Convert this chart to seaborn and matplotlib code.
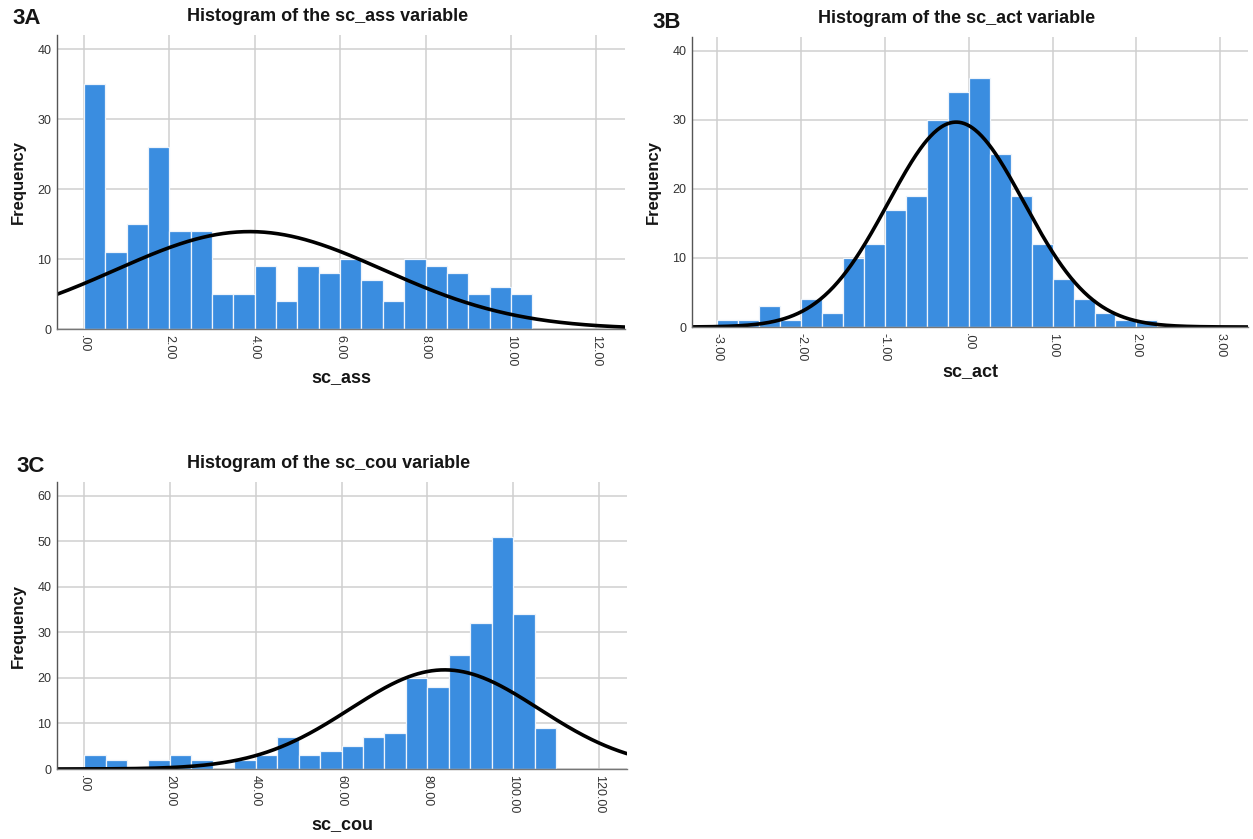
import numpy as np
import pandas as pd
import matplotlib
matplotlib.use("Agg")
import matplotlib.pyplot as plt
import seaborn as sns

# =====================================================
# DATA (bin counts)
# =====================================================

ass_start = 0.0
ass_width = 0.5
ass_counts = [35, 11, 15, 26, 14, 14, 5, 5, 9, 4, 9, 8, 10, 7, 4, 10, 9, 8, 5, 6, 5]
ass_mean = 3.88
ass_sd = 3.14

act_start = -3.0
act_width = 0.25
act_counts = [1, 1, 3, 1, 4, 2, 10, 12, 17, 19, 30, 34, 36, 25, 19, 12, 7, 4, 2, 1, 1]
act_mean = -0.15
act_sd = 0.81

cou_start = 0.0
cou_width = 5.0
cou_counts = [3, 2, 0, 2, 3, 2, 0, 2, 3, 7, 3, 4, 5, 7, 8, 20, 18, 25, 32, 51, 34, 9]
cou_mean = 84.0
cou_sd = 22.0

ass_xticks = [0, 2, 4, 6, 8, 10, 12]
act_xticks = [-3, -2, -1, 0, 1, 2, 3]
cou_xticks = [0, 20, 40, 60, 80, 100, 120]
freq_ticks_40 = [0, 10, 20, 30, 40]
freq_ticks_60 = [0, 10, 20, 30, 40, 50, 60]

# =====================================================
# STYLE
# =====================================================

sns.set_style("whitegrid")
plt.rcParams['font.family'] = ['Liberation Sans', 'DejaVu Sans']

bar_color = "#3a8de0"
grid_color = "#cfcfcf"
text_color = "#151515"


def spss_label(v):
    s = f"{v:.2f}"
    if s.startswith("0."):
        s = s[1:]
    elif s.startswith("-0."):
        s = "-" + s[2:]
    return s


def draw_panel(ax, start, width, counts, mean, sd, xlim, ylim,
               xticks, yticks, title, xlabel):
    edges = [start + width * i for i in range(len(counts) + 1)]
    mids = [e + width / 2 for e in edges[:-1]]
    df = pd.DataFrame({"x": mids, "n": counts})

    sns.histplot(
        data=df,
        x="x",
        weights="n",
        bins=edges,
        color=bar_color,
        edgecolor="#eef4fb",
        linewidth=0.9,
        alpha=1,
        ax=ax
    )

    # fitted normal curve scaled to counts
    n_total = sum(counts)
    xs = np.linspace(xlim[0], xlim[1], 500)
    ys = n_total * width * np.exp(-0.5 * ((xs - mean) / sd) ** 2) / (sd * np.sqrt(2 * np.pi))
    sns.lineplot(x=xs, y=ys, color="black", linewidth=2.6, ax=ax)

    ax.set_xlim(xlim)
    ax.set_ylim(ylim)
    ax.set_xticks(xticks)
    ax.set_xticklabels([spss_label(v) for v in xticks], rotation=-90, fontsize=9)
    ax.set_yticks(yticks)
    ax.set_yticklabels([str(v) for v in yticks], fontsize=9)
    ax.tick_params(length=0, pad=4, colors="#333333")

    ax.set_axisbelow(True)
    ax.grid(True, color=grid_color, linewidth=1.1)

    for side in ["top", "right"]:
        ax.spines[side].set_visible(False)
    ax.spines["left"].set_color("#555555")
    ax.spines["bottom"].set_color("#777777")
    ax.spines["left"].set_linewidth(1.0)
    ax.spines["bottom"].set_linewidth(1.0)

    ax.set_title(title, fontsize=13, fontweight="bold", pad=10, color=text_color, x=0.476)
    ax.set_xlabel(xlabel, fontsize=13, fontweight="bold", color=text_color, labelpad=2)
    ax.set_ylabel("Frequency", fontsize=12, fontweight="bold", color=text_color, labelpad=8)


# =====================================================
# FIGURE
# =====================================================

W, H = 1253, 839
fig = plt.figure(figsize=(W / 100, H / 100), dpi=100)

ax_a = fig.add_axes([57 / W, 1 - 329 / H, 568 / W, 294 / H])
ax_b = fig.add_axes([692 / W, 1 - 327 / H, 556 / W, 290 / H])
ax_c = fig.add_axes([57 / W, 1 - 769 / H, 570 / W, 287 / H])

draw_panel(ax_a, ass_start, ass_width, ass_counts, ass_mean, ass_sd,
           (-0.63, 12.67), (0, 42), ass_xticks, freq_ticks_40,
           "Histogram of the sc_ass variable", "sc_ass")

draw_panel(ax_b, act_start, act_width, act_counts, act_mean, act_sd,
           (-3.3, 3.33), (0, 42), act_xticks, freq_ticks_40,
           "Histogram of the sc_act variable", "sc_act")

draw_panel(ax_c, cou_start, cou_width, cou_counts, cou_mean, cou_sd,
           (-6.3, 126.5), (0, 63), cou_xticks, freq_ticks_60,
           "Histogram of the sc_cou variable", "sc_cou")

fig.text(12 / W, 1 - 18 / H, "3A", fontsize=16, fontweight="bold", va="center", color=text_color)
fig.text(652 / W, 1 - 22 / H, "3B", fontsize=16, fontweight="bold", va="center", color=text_color)
fig.text(16 / W, 1 - 466 / H, "3C", fontsize=16, fontweight="bold", va="center", color=text_color)

fig.savefig("out.png", dpi=100)
